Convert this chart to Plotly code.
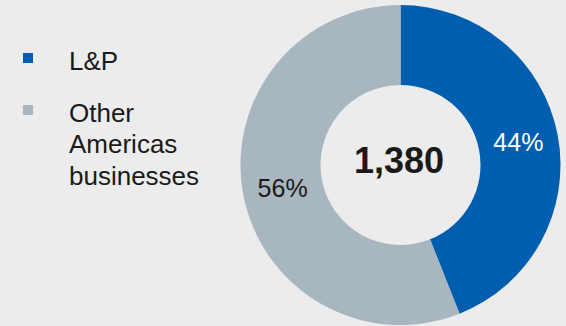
import plotly.graph_objects as go

labels = ["L&P", "Other Americas businesses"]
values = [607, 773]
colors = ["#005EB0", "#A8B6BF"]
text_colors = ["#FFFFFF", "#1A1A1A"]

W, H = 566, 326
BG = "#ECECEC"
FONT = "Arial, Liberation Sans, sans-serif"

total = sum(values)

fig = go.Figure()
fig.add_trace(go.Pie(
    labels=labels,
    values=values,
    hole=0.5,
    sort=False,
    direction="clockwise",
    rotation=0,
    marker=dict(colors=colors, line=dict(width=0)),
    textinfo="percent",
    texttemplate="%{percent:.0%}",
    textposition="inside",
    insidetextorientation="horizontal",
    insidetextfont=dict(family=FONT, size=25, color=text_colors),
    domain=dict(x=[240.5 / W, 560.5 / W], y=[1 / H, 321 / H]),
    showlegend=False,
    hoverinfo="label+value+percent",
))

def px(xp):
    return xp / W

def py(yp):
    return (H - yp) / H

# center total
fig.add_annotation(
    x=px(399), y=py(160), xref="paper", yref="paper",
    text=f"<b>{total:,}</b>", showarrow=False,
    font=dict(family=FONT, size=36, color="#1A1A1A"),
    xanchor="center", yanchor="middle",
)

# manual legend
LEG_FS = 26
LINE_GAP = 31.5
square_rows = [58, 110]
first_baselines = [70, 122]
for lab, col, sy, base in zip(labels, colors, square_rows, first_baselines):
    fig.add_shape(
        type="rect", xref="paper", yref="paper",
        x0=px(23), x1=px(33), y0=py(sy - 5), y1=py(sy + 5),
        fillcolor=col, line=dict(width=0),
    )
    for i, word in enumerate(lab.split(" ")):
        mid = base + i * LINE_GAP - 0.36 * LEG_FS
        fig.add_annotation(
            x=px(67), y=py(mid), xref="paper", yref="paper",
            text=word, showarrow=False, align="left",
            font=dict(family=FONT, size=LEG_FS, color="#1A1A1A"),
            xanchor="left", yanchor="middle",
        )

fig.update_layout(
    width=W, height=H,
    margin=dict(l=0, r=0, t=0, b=0),
    paper_bgcolor=BG, plot_bgcolor=BG,
)

fig.write_html("out.html")
